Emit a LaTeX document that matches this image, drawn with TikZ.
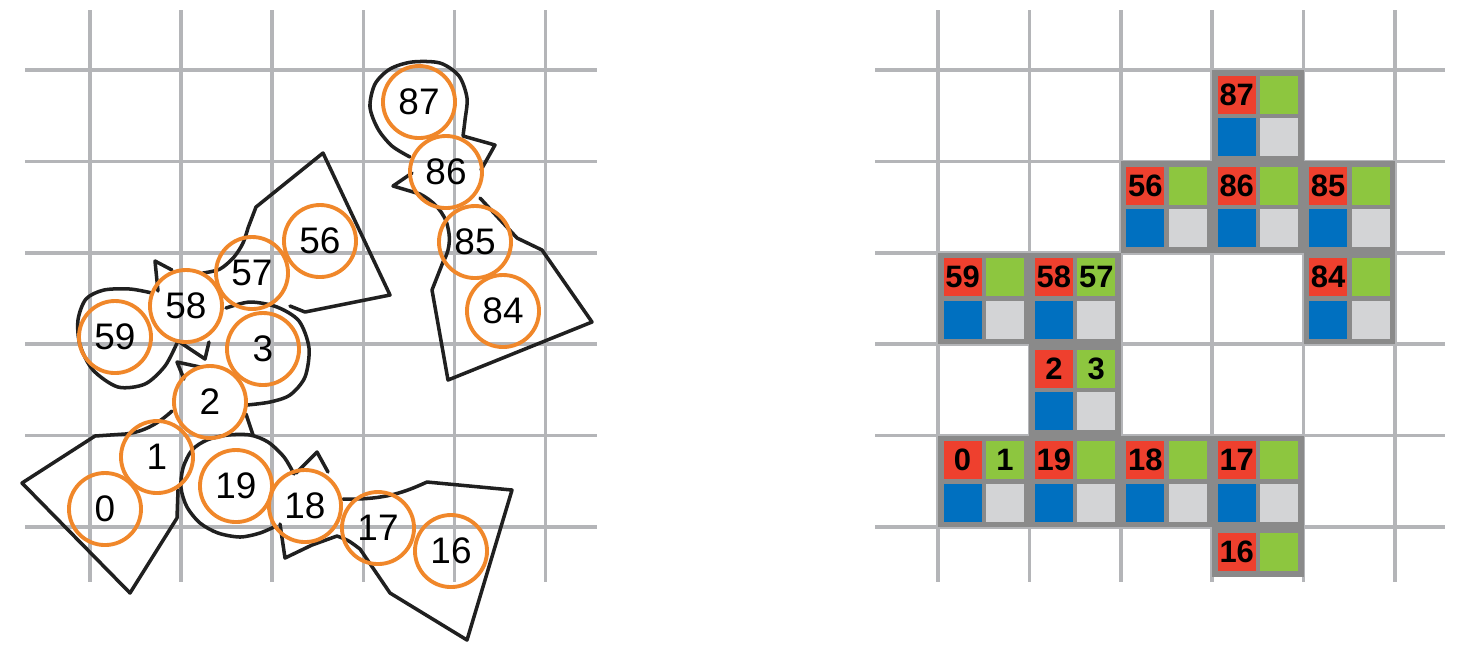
\documentclass[tikz,border=0pt]{standalone}
\usepackage{fontspec}
\setmainfont{Liberation Sans}
\definecolor{gridgray}{HTML}{B4B5B8}
\definecolor{inkblack}{HTML}{202020}
\definecolor{ringorange}{HTML}{F0872A}
\definecolor{cellred}{HTML}{EE402E}
\definecolor{cellgreen}{HTML}{8DC63F}
\definecolor{cellblue}{HTML}{0070C0}
\definecolor{cellsilver}{HTML}{D3D4D6}
\definecolor{boxgray}{HTML}{8A8A8A}
\begin{document}
\begin{tikzpicture}[x=0.01cm,y=-0.01cm,
    gridline/.style={draw=gridgray,line width=1pt},
    outline/.style={draw=inkblack,line width=1pt,line join=round,line cap=round},
    ring/.style={circle,draw=ringorange,line width=1.1pt,minimum size=0.72cm,inner sep=0pt,font=\fontsize{10.5}{12}\selectfont},
    cellnum/.style={inner sep=0pt,font=\fontsize{8.8}{10}\selectfont\bfseries}]
\useasboundingbox (0,0) rectangle (1461,650);
% the two grids
\foreach \k in {0,...,5} {
    \draw[gridline] ({90+91.1*\k},10) -- ({90+91.1*\k},582);
    \draw[gridline] (25,{70+91.4*\k}) -- (597,{70+91.4*\k});
    \draw[gridline] ({938+91.4*\k},10) -- ({938+91.4*\k},582);
    \draw[gridline] (875,{70+91.4*\k}) -- (1445,{70+91.4*\k});
}
% left: module outlines
\draw[outline] (172,411) .. controls (160,422) and (145,432) .. (125,434) -- (95,436) -- (22,483) -- (130,593) -- (177,518) -- (178,490);
\draw[outline] plot[smooth] coordinates {(294,474) (284,457) (268,442) (250,435) (228,435) (207,440) (192,450) (183,468) (181,488) (187,507) (200,523) (218,533) (240,537) (260,533) (276,526)};
\draw[outline] (184,379) -- (177,362) -- (200,367);
\draw[outline] (246,414) -- (253,435);
\draw[outline] (158,291) -- (155,261) -- (172,270);
\draw[outline] (178,341) -- (205,359) -- (209,342);
\draw[outline] plot[smooth] coordinates {(152,293) (130,289) (104,290) (86,299) (78,320) (80,345) (93,370) (118,387) (145,384) (165,366) (177,343)};
\draw[outline] plot[smooth] coordinates {(203,273) (220,269) (234,257) (243,243) (248,228)} -- (256,207) -- (323,153) -- (390,295) -- (305,312) -- (290,306);
\draw[outline] plot[smooth] coordinates {(226,308) (250,302) (277,307) (299,321) (309,348) (305,377) (290,395) (270,402) (247,405)};
\draw[outline] (296,473) -- (317,452) -- (328,472);
\draw[outline] (280,524) -- (285,558) -- (312,545) -- (337,536) .. controls (348,540) .. (360,549) -- (390,593) -- (467,640) -- (512,490) -- (427,482) .. controls (405,492) and (385,500) .. (343,499);
\draw[outline] plot[smooth] coordinates {(410,157) (392,146) (378,129) (370,107) (375,84) (390,69) (412,62) (440,63) (459,76) (467,98) (465,120) (463,136)} -- (495,145) -- (481,170);
\draw[outline] (412,173) -- (393,186) -- (420,194) .. controls (432,200) and (445,212) .. (448,228) .. controls (451,240) and (449,252) .. (443,262) -- (432,290) -- (448,380) -- (592,322) -- (542,250) -- (517,238) -- (480,198);
% left: modules
\foreach \n/\px/\py in {0/105/509,1/157/457,2/210/402,3/263/349,19/236/486,18/305/506,17/378/528,16/451/551,
    59/115/337,58/186/306,57/252/273,56/320/241,87/419/102,86/446/172,85/475/242,84/503/311}
    \node[ring] (m\n) at (\px,\py) {\n};
% right: lattice cells
\foreach \c/\r/\a/\b in {3/0/87/{},2/1/56/{},3/1/86/{},4/1/85/{},0/2/59/{},1/2/58/57,4/2/84/{},
    1/3/2/3,0/4/0/1,1/4/19/{},2/4/18/{},3/4/17/{}} {
    \begin{scope}[shift={({938+91.4*\c},{70+91.4*\r})}]
        \fill[boxgray] (0,0) rectangle (91.4,91.4);
        \fill[cellred] (5.5,5.5) rectangle ++(38,38);
        \fill[cellgreen] (47.9,5.5) rectangle ++(38,38);
        \fill[cellblue] (5.5,47.9) rectangle ++(38,38);
        \fill[cellsilver] (47.9,47.9) rectangle ++(38,38);
        \node[cellnum] (r\a) at (24.5,24.5) {\a};
        \node[cellnum] (g\a) at (66.9,24.5) {\b};
    \end{scope}
}
\fill[boxgray] (1212.2,527) rectangle (1303.6,577);
\fill[cellred] (1217.7,532.5) rectangle ++(38,38);
\fill[cellgreen] (1260.1,532.5) rectangle ++(38,38);
\node[cellnum] (r16) at (1236.7,551.5) {16};
\end{tikzpicture}
\end{document}
